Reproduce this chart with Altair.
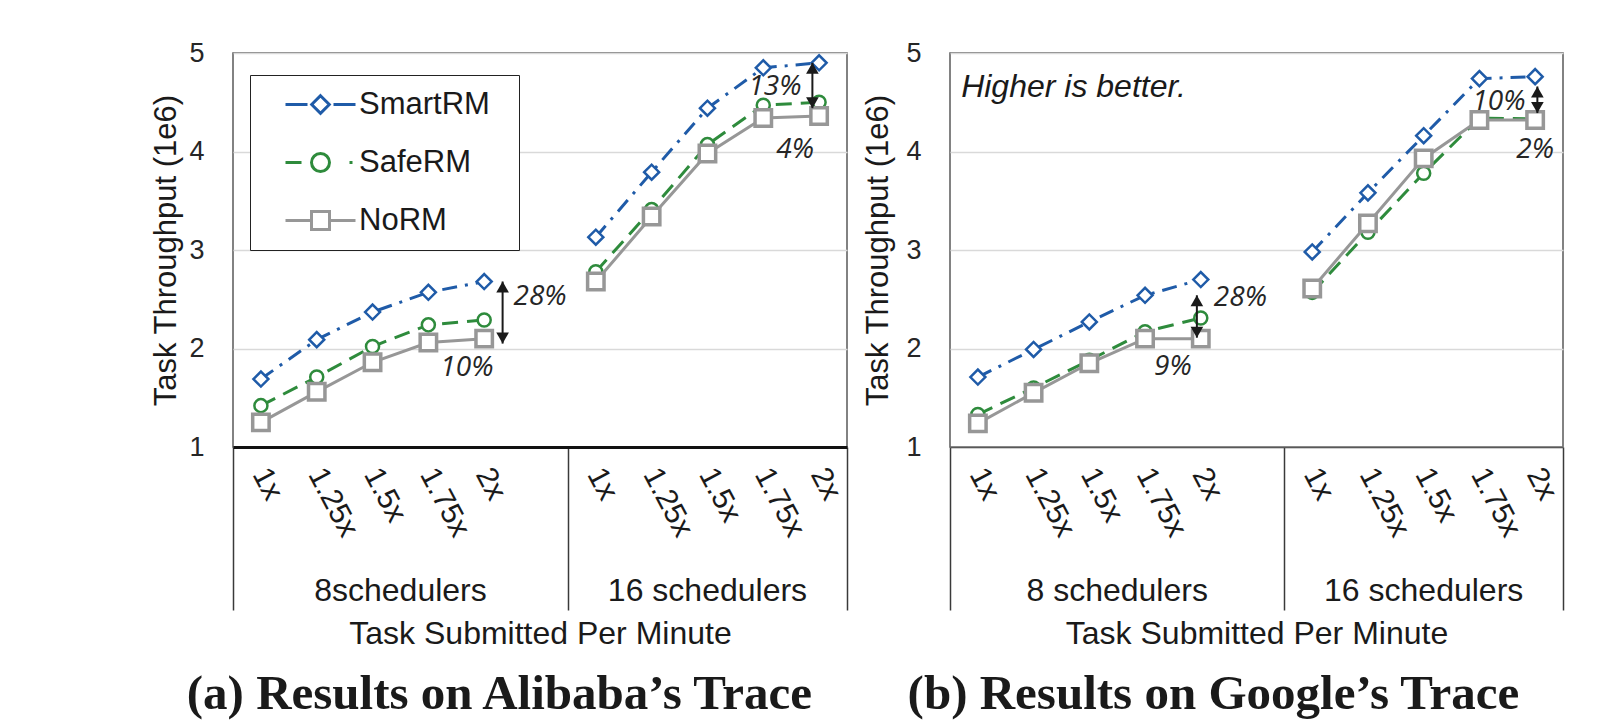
import altair as alt
import pandas as pd

# ---------------- data ----------------
categories = ["1x", "1.25x", "1.5x", "1.75x", "2x"]
series = ["SmartRM", "SafeRM", "NoRM"]
groups_alibaba = ["8schedulers", "16 schedulers"]
groups_google = ["8 schedulers", "16 schedulers"]

alibaba_smartrm = [1.69, 2.09, 2.37, 2.57, 2.68, 3.13, 3.79, 4.44, 4.85, 4.90]
alibaba_saferm = [1.42, 1.71, 2.02, 2.24, 2.29, 2.78, 3.41, 4.07, 4.47, 4.50]
alibaba_norm = [1.25, 1.56, 1.86, 2.06, 2.10, 2.68, 3.34, 3.98, 4.34, 4.36]

google_smartrm = [1.71, 1.99, 2.27, 2.54, 2.70, 2.98, 3.58, 4.16, 4.74, 4.76]
google_saferm = [1.33, 1.60, 1.88, 2.17, 2.31, 2.57, 3.18, 3.78, 4.34, 4.33]
google_norm = [1.24, 1.55, 1.85, 2.10, 2.10, 2.61, 3.27, 3.93, 4.32, 4.32]

y_ticks = [1, 2, 3, 4, 5]

alibaba_note_text = ["28%", "10%", "13%", "4%"]
alibaba_note_x = [5.5, 4.19, 9.71, 10.07]
alibaba_note_y = [2.52, 1.80, 4.65, 4.02]
google_note_text = ["28%", "9%", "10%", "2%"]
google_note_x = [5.21, 4.0, 9.85, 10.5]
google_note_y = [2.51, 1.81, 4.50, 4.02]

alibaba_arrow_x = [4.83, 10.38]
alibaba_arrow_top = [2.68, 4.90]
alibaba_arrow_bottom = [2.05, 4.44]
google_arrow_x = [4.43, 10.54]
google_arrow_top = [2.54, 4.66]
google_arrow_bottom = [2.11, 4.39]

google_hint_text = ["Higher is better."]
google_hint_x = [0.2]
google_hint_y = [4.65]

# ---------------- style ----------------
FONT = "Liberation Sans"
COLORS = ["#1F5BA8", "#2E8B3C", "#979797"]
DASHES = [[15, 8, 3, 8], [16, 9], None]
SHAPES = ["diamond", "circle", "square"]
MSIZES = [225, 170, 270]
MSTROKE = [2.5, 2.5, 3.5]
LEGEND_PATHS = [
    "M-3.5 0L-1.3 0M1.3 0L3.5 0M0 -0.88L0.88 0L0 0.88L-0.88 0Z",
    "M-3.5 0L-1.9 0M0.9 0A0.9 0.9 0 1 1 -0.9 0A0.9 0.9 0 1 1 0.9 0M2.9 0L3.2 0",
    "M-3.5 0L-0.9 0M0.9 0L3.5 0M-0.9 -0.9L0.9 -0.9L0.9 0.9L-0.9 0.9Z",
]
SLOTS = [6, 5]  # category slots per group (first group keeps an empty slot)
H = 394


def long_table(values_by_series):
    rows = []
    n = len(categories)
    for s, vals in zip(series, values_by_series):
        for k, v in enumerate(vals):
            g, i = divmod(k, n)
            rows.append({"series": s, "group": g, "cat": categories[i],
                         "pos": sum(SLOTS[:g]) + i + 0.5, "value": v})
    return pd.DataFrame(rows)


def panel(values, groups, note_text, note_x, note_y, arr_x, arr_top, arr_bot,
          title, width, domain_color, domain_width, ytitle_pad, legend=False, hint=None):
    df = long_table(values)
    xs = alt.Scale(domain=[0, sum(SLOTS)], nice=False, zero=False)
    ys = alt.Scale(domain=[y_ticks[0], y_ticks[-1]], nice=False, zero=False)
    bounds = [0, SLOTS[0], SLOTS[0] + SLOTS[1]]
    x_axis = alt.Axis(values=bounds, labels=False, grid=False, ticks=True, tickSize=163,
                      tickColor="#3a3a3a", tickWidth=1.5, domain=True,
                      domainColor=domain_color, domainWidth=domain_width,
                      title="Task Submitted Per Minute", titlePadding=8, titleFontSize=32,
                      titleFontWeight="normal", titleColor="#1a1a1a", titleFont=FONT)
    y_axis = alt.Axis(values=y_ticks, grid=True, gridColor="#d9d9d9", gridWidth=1.5,
                      ticks=False, domain=False, labelFontSize=27, labelColor="#262626",
                      labelPadding=29, labelFont=FONT, title="Task Throughput (1e6)",
                      titleFontSize=31, titleFontWeight="normal", titleColor="#1a1a1a",
                      titlePadding=ytitle_pad, titleFont=FONT)

    def X(f="pos"):
        return alt.X(f"{f}:Q", scale=xs, axis=x_axis)

    def Y(f):
        return alt.Y(f"{f}:Q", scale=ys, axis=y_axis)

    layers = []
    for i, s in enumerate(series):
        sub = alt.Chart(df).transform_filter(alt.datum.series == s)
        line_kw = dict(color=COLORS[i], strokeWidth=3)
        if DASHES[i]:
            line_kw["strokeDash"] = DASHES[i]
        layers.append(sub.mark_line(**line_kw).encode(x=X(), y=Y("value"), detail="group:N"))
        layers.append(sub.mark_point(shape=SHAPES[i], size=MSIZES[i], filled=True, fill="white",
                                     stroke=COLORS[i], strokeWidth=MSTROKE[i], opacity=1)
                      .encode(x=X(), y=Y("value")))

    arr = pd.DataFrame({"pos": arr_x, "top": arr_top, "bottom": arr_bot})
    ab = alt.Chart(arr)
    layers.append(ab.mark_rule(color="#1a1a1a", strokeWidth=2).encode(
        x=X(), y=Y("top"), y2=alt.Y2("bottom:Q")))
    layers.append(ab.mark_point(shape="triangle-up", filled=True, size=160, color="#1a1a1a",
                                opacity=1, yOffset=5.5).encode(x=X(), y=Y("top")))
    layers.append(ab.mark_point(shape="triangle-down", filled=True, size=160, color="#1a1a1a",
                                opacity=1, yOffset=-5.5).encode(x=X(), y=Y("bottom")))

    notes = pd.DataFrame({"pos": note_x, "value": note_y, "label": note_text})
    layers.append(alt.Chart(notes).mark_text(font="Open Sans", fontStyle="italic", fontSize=28,
                                             color="#262626", align="center", baseline="middle")
                  .encode(x=X(), y=Y("value"), text="label:N"))

    cat_rows = []
    for g in range(len(groups)):
        for i, c in enumerate(categories):
            cat_rows.append({"pos": sum(SLOTS[:g]) + i + 0.5, "label": c})
    cats = pd.DataFrame(cat_rows)
    layers.append(alt.Chart(cats).mark_text(angle=62, align="left", baseline="middle", fontSize=30,
                                            font=FONT, color="#1a1a1a", xOffset=-1)
                  .encode(x=X(), y=alt.value(H + 23), text="label:N"))

    grp = pd.DataFrame({"pos": [sum(SLOTS[:g]) + SLOTS[g] / 2 for g in range(len(groups))],
                        "label": groups})
    layers.append(alt.Chart(grp).mark_text(align="center", baseline="alphabetic", fontSize=32,
                                           font=FONT, color="#1a1a1a")
                  .encode(x=X(), y=alt.value(H + 154), text="label:N"))

    if hint is not None:
        hdf = pd.DataFrame({"pos": hint[1], "value": hint[2], "label": hint[0]})
        layers.append(alt.Chart(hdf).mark_text(align="left", baseline="middle", fontSize=32,
                                               font=FONT, fontStyle="italic", color="#1a1a1a")
                      .encode(x=X(), y=Y("value"), text="label:N"))

    if legend:
        ldf = pd.DataFrame({"series": series, "pos": 0.5, "value": 1.0})
        leg = alt.Legend(orient="none", legendX=17, legendY=22, title="\u00a0",
                         titleOrient="right", titlePadding=15, titleFontSize=30,
                         labelFontSize=31, labelFont=FONT, labelColor="#1a1a1a",
                         strokeColor="#222222", fillColor="white", padding=14, symbolSize=400,
                         symbolStrokeWidth=3, symbolOffset=41, labelOffset=23, rowPadding=26,
                         labelLimit=300)
        layers.append(alt.Chart(ldf).transform_filter("false")
                      .mark_point(filled=False, size=400, strokeWidth=3, opacity=1)
                      .encode(x=X(), y=Y("value"),
                              color=alt.Color("series:N", scale=alt.Scale(domain=series, range=COLORS),
                                              legend=leg),
                              shape=alt.Shape("series:N",
                                              scale=alt.Scale(domain=series, range=LEGEND_PATHS),
                                              legend=leg)))

    return alt.layer(*layers).properties(
        width=width, height=H,
        title=alt.TitleParams(text=title, orient="bottom", anchor="middle", frame="bounds",
                              font="Liberation Serif", fontSize=49, fontWeight="bold",
                              color="#1a1a1a", offset=20))


left = panel([alibaba_smartrm, alibaba_saferm, alibaba_norm], groups_alibaba,
             alibaba_note_text, alibaba_note_x, alibaba_note_y,
             alibaba_arrow_x, alibaba_arrow_top, alibaba_arrow_bottom,
             "(a) Results on Alibaba\u2019s Trace", 614, "#111111", 3, 6, legend=True)
right = panel([google_smartrm, google_saferm, google_norm], groups_google,
              google_note_text, google_note_x, google_note_y,
              google_arrow_x, google_arrow_top, google_arrow_bottom,
              "(b) Results on Google\u2019s Trace", 613, "#595959", 1.5, 11,
              hint=(google_hint_text, google_hint_x, google_hint_y))

chart = (alt.hconcat(left, right, spacing=13)
         .resolve_scale(color="independent", shape="independent")
         .properties(padding={"left": 142, "top": 30, "right": 10, "bottom": 0},
                     background="white")
         .configure_view(stroke="#595959", strokeWidth=1.5))

chart.save("out.html", embed_options={"renderer": "svg", "actions": False})
